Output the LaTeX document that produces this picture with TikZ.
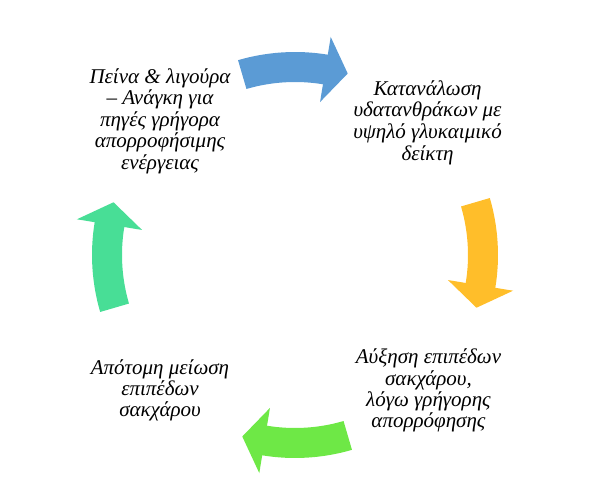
\documentclass[tikz,border=0pt]{standalone}
\usepackage{fontspec}
\setmainfont{Liberation Serif}
\usepackage{tikz}
\usetikzlibrary{calc}

\definecolor{arrowblue}{RGB}{91,155,213}
\definecolor{arrowyellow}{RGB}{255,190,42}
\definecolor{arrowgreen}{RGB}{110,232,70}
\definecolor{arrowteal}{RGB}{72,222,150}

\begin{document}
\begin{tikzpicture}[x=1pt, y=1pt,
    steptext/.style={align=center, font={\fontsize{21}{#1}\selectfont\itshape}}]

\useasboundingbox (0,0) rectangle (592,491);
\coordinate (hub) at (295,236);

% Cycle arrows (block arcs, running clockwise)
\foreach \mid/\col in {90/arrowblue, 0/arrowyellow, -90/arrowgreen, 180/arrowteal} {
    \pgfmathsetmacro{\tail}{\mid+16.3}
    \pgfmathsetmacro{\neck}{\mid-9.3}
    \pgfmathsetmacro{\tip}{\mid-16.2}
    \fill[\col] ($(hub)+(\tail:203)$) arc[start angle=\tail, end angle=\neck, radius=203]
        -- ($(hub)+(\neck:221)$) -- ($(hub)+(\tip:189)$) -- ($(hub)+(\neck:155)$)
        -- ($(hub)+(\neck:173)$) arc[start angle=\neck, end angle=\tail, radius=173] -- cycle;
}

% Steps of the cycle
\node[steptext=21.5] (hunger) at (160,370) {Πείνα \& λιγούρα\\– Ανάγκη για\\πηγές γρήγορα\\απορροφήσιμης\\ενέργειας};
\node[steptext=21.7] (intake) at (427.5,368.5) {Κατανάλωση\\υδατανθράκων με\\υψηλό γλυκαιμικό\\δείκτη};
\node[steptext=21.3] (rise) at (428.5,100.5) {Αύξηση επιπέδων\\σακχάρου,\\λόγω γρήγορης\\απορρόφησης};
\node[steptext=21] (drop) at (160,100.5) {Απότομη μείωση\\επιπέδων\\σακχάρου};

\end{tikzpicture}
\end{document}
